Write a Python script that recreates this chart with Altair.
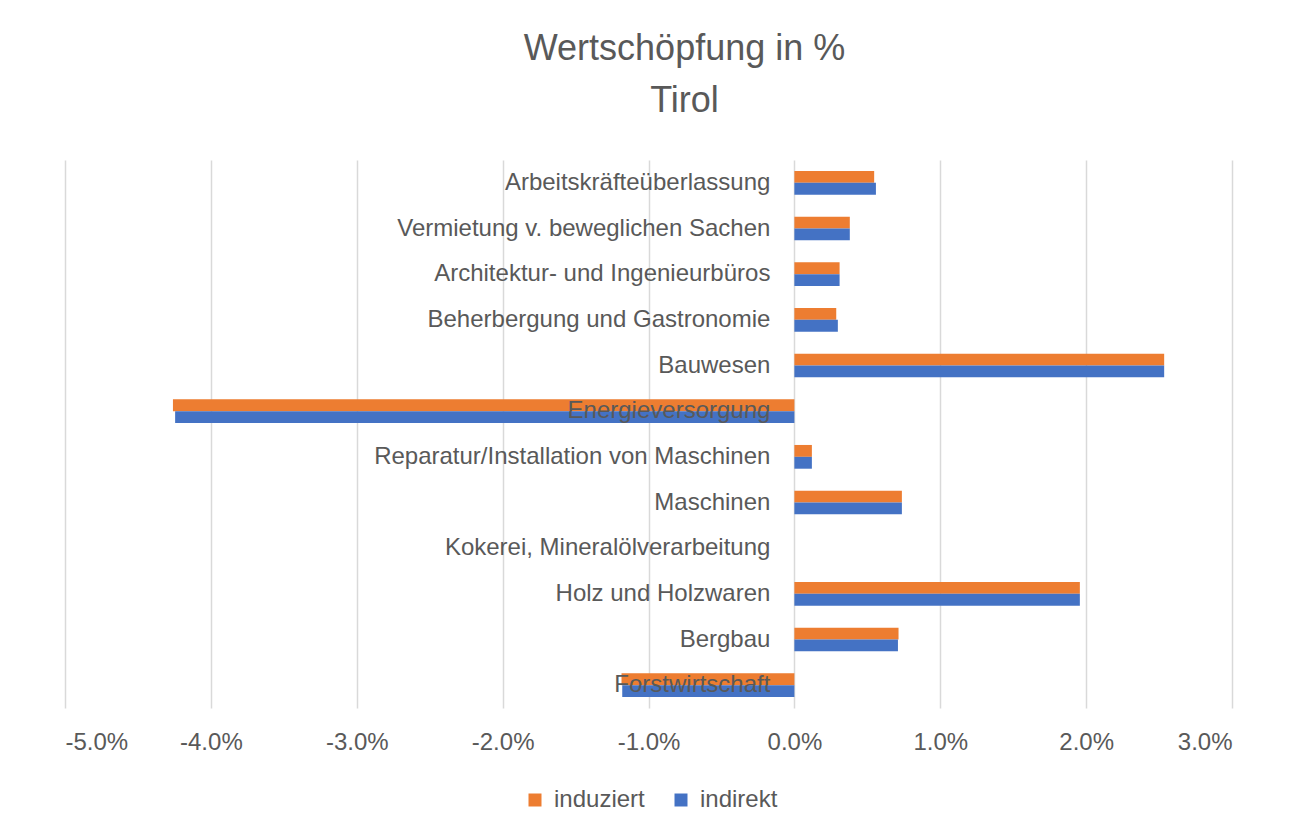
import altair as alt
import pandas as pd

categories = [
    "Arbeitskräfteüberlassung",
    "Vermietung v. beweglichen Sachen",
    "Architektur- und Ingenieurbüros",
    "Beherbergung und Gastronomie",
    "Bauwesen",
    "Energieversorgung",
    "Reparatur/Installation von Maschinen",
    "Maschinen",
    "Kokerei, Mineralölverarbeitung",
    "Holz und Holzwaren",
    "Bergbau",
    "Forstwirtschaft",
]
induziert = [0.547, 0.38, 0.31, 0.287, 2.535, -4.26, 0.12, 0.737, 0.0, 1.957, 0.714, -1.185]
indirekt = [0.559, 0.38, 0.31, 0.298, 2.535, -4.245, 0.12, 0.737, 0.0, 1.957, 0.71, -1.18]
series = ["induziert", "indirekt"]
colors = ["#ED7D31", "#4472C4"]
x_ticks = [-0.05, -0.04, -0.03, -0.02, -0.01, 0.0, 0.01, 0.02, 0.03]

rows = []
for c, a, b in zip(categories, induziert, indirekt):
    rows.append({"cat": c, "series": "induziert", "value": a / 100})
    rows.append({"cat": c, "series": "indirekt", "value": b / 100})
df = pd.DataFrame(rows)
labels_df = pd.DataFrame({"cat": categories})

FONT = "Liberation Sans"
GREY = "#595959"

yscale = alt.Scale(paddingInner=0.48, paddingOuter=0.24)

bars = alt.Chart(df).mark_bar().encode(
    y=alt.Y("cat:N", sort=categories, axis=None, scale=yscale),
    yOffset=alt.YOffset("series:N", sort=series, scale=alt.Scale(paddingInner=0, paddingOuter=0)),
    x=alt.X(
        "value:Q",
        scale=alt.Scale(domain=[-0.05, 0.03], nice=False, zero=False),
        axis=alt.Axis(
            values=x_ticks, format=".1%", title=None, grid=True, gridColor="#d9d9d9",
            gridWidth=1.5, domain=False, ticks=False, labelFontSize=24, labelColor=GREY,
            labelFont=FONT, labelPadding=22,
            labelExpr="replace(datum.label, '\u2212', '-')",
        ),
    ),
    color=alt.Color(
        "series:N",
        sort=series,
        scale=alt.Scale(domain=series, range=colors),
        legend=alt.Legend(
            title=None, orient="none", direction="horizontal", legendX=458, legendY=628,
            symbolType="square", symbolSize=169, symbolStrokeWidth=0, labelFontSize=24,
            labelColor=GREY, labelFont=FONT, labelOffset=7, columnPadding=24, padding=0,
        ),
    ),
)

text = alt.Chart(labels_df).mark_text(
    align="right", baseline="middle", dx=-24, fontSize=24, font=FONT, color=GREY
).encode(
    y=alt.Y("cat:N", sort=categories, axis=None, scale=yscale),
    x=alt.datum(0),
    text="cat:N",
)

chart = (
    alt.layer(bars, text)
    .properties(
        width=1167,
        height=548,
        title=alt.TitleParams(
            ["Wertschöpfung in %", "Tirol"], fontSize=36, color=GREY, font=FONT,
            fontWeight="normal", anchor="middle", dx=36, offset=40, lineHeight=52,
        ),
        autosize=alt.AutoSizeParams(type="none"),
        padding={"left": 57, "top": 152, "right": 49, "bottom": 121},
        view=alt.ViewBackground(stroke="transparent", strokeWidth=0),
    )
    .configure_view(strokeWidth=0, stroke="transparent")
    .configure_axis(domain=False)
    .configure(background="white")
)

chart.save("out.html", embed_options={"renderer": "svg", "actions": False})
